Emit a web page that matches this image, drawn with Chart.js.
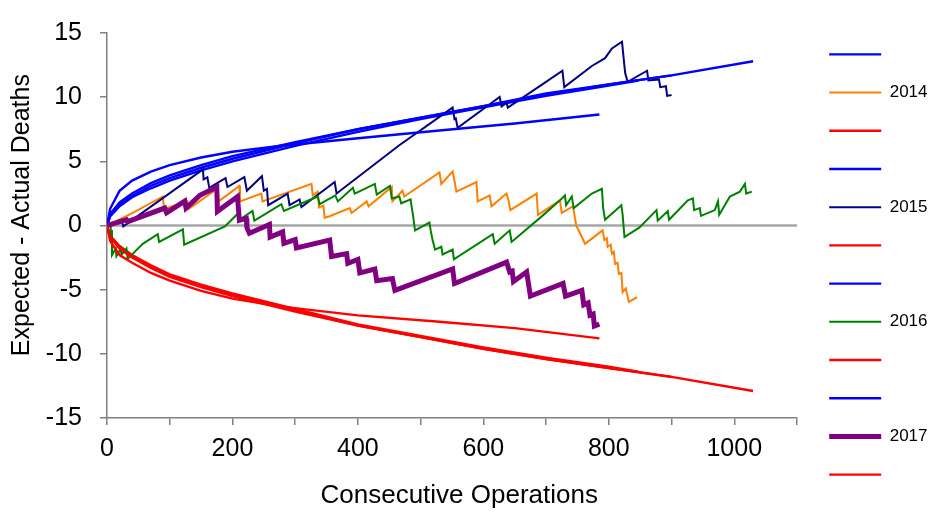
<!DOCTYPE html>
<html>
<head>
<meta charset="utf-8">
<script src="https://cdn.jsdelivr.net/npm/chart.js@4.4.1/dist/chart.umd.min.js"></script>
<style>
  html, body { margin: 0; padding: 0; background: #fff; }
  #wrap { width: 932px; height: 519px; }
</style>
</head>
<body>
<div id="wrap"><canvas id="chart" width="932" height="519"></canvas></div>
<script>

// control limits (expected - actual deaths), by year
const limOps2014 = [0, 5, 20, 40, 70, 100, 150, 200, 300, 400, 500, 600, 700, 800, 847];
const upper2014 = [0, 0.7, 1.5, 2.2, 2.9, 3.5, 4.3, 5.0, 6.2, 7.3, 8.3, 9.2, 10.1, 10.9, 11.3];
const lower2014 = [0, -0.8, -1.6, -2.3, -3.1, -3.8, -4.6, -5.3, -6.5, -7.7, -8.6, -9.5, -10.3, -11.0, -11.4];

const limOps2015 = [0, 5, 20, 40, 70, 100, 150, 200, 300, 400, 500, 600, 700, 800, 900];
const upper2015 = [0, 0.8, 1.6, 2.3, 3.1, 3.7, 4.5, 5.2, 6.4, 7.5, 8.4, 9.3, 10.2, 11.0, 11.7];
const lower2015 = [0, -0.8, -1.7, -2.4, -3.2, -3.9, -4.7, -5.4, -6.6, -7.8, -8.7, -9.6, -10.4, -11.1, -11.8];

const limOps2016 = [0, 5, 20, 40, 70, 100, 150, 200, 300, 400, 500, 600, 700, 800, 900, 1030];
const upper2016 = [0, 0.9, 1.8, 2.5, 3.3, 3.9, 4.7, 5.4, 6.5, 7.5, 8.4, 9.3, 10.3, 11.0, 11.7, 12.8];
const lower2016 = [0, -0.9, -1.8, -2.5, -3.3, -4.0, -4.8, -5.5, -6.7, -7.8, -8.7, -9.6, -10.4, -11.1, -11.8, -12.9];

const limOps2017 = [0, 5, 20, 40, 70, 100, 150, 200, 275, 400, 530, 650, 785];
const upper2017 = [0, 1.3, 2.7, 3.5, 4.2, 4.7, 5.3, 5.75, 6.2, 6.8, 7.4, 7.95, 8.65];
const lower2017 = [0, -1.2, -2.3, -2.9, -3.7, -4.3, -5.1, -5.7, -6.3, -7.0, -7.5, -8.0, -8.8];

// observed VLAD curves
const ops2014 = [0, 41, 89, 91, 128, 130, 176, 178, 211, 212, 246, 248, 326, 328, 336, 338, 345, 347, 355,
  387, 390, 414, 417, 454, 455, 471, 474, 530, 533, 551, 554, 557, 589, 591, 610, 613, 637, 640, 643,
  685, 687, 722, 725, 743, 746, 748, 757, 762, 790, 793, 797, 798, 803, 805, 808, 810, 814, 816, 820, 822, 827, 832, 845];
const vlad2014 = [0, 0.98, 2.26, 1.28, 1.88, 1.28, 2.86, 1.88, 3.09, 1.88, 2.49, 1.88, 3.24, 2.34, 2.64, 1.4, 1.55, 0.6, 0.72,
  1.36, 0.98, 1.88, 1.5, 3.01, 1.88, 2.71, 2.26, 4.14, 3.24, 4.22, 3.47, 2.64, 3.39, 1.88, 2.34, 1.5, 2.49, 1.96, 1.2,
  2.49, 0.83, 1.96, 0.98, 1.5, 0.6, 0.0, -0.9, -1.43, -0.38, -1.13, -1.0, -1.66, -1.5, -2.19, -2.05, -3.0, -2.9, -3.77, -3.7, -5.2, -4.9, -5.95, -5.58];

const ops2015 = [0, 23, 26, 153, 154, 160, 163, 189, 192, 219, 223, 247, 250, 255, 257, 288, 291, 307, 310, 363, 366,
  466, 551, 554, 556, 559, 626, 629, 637, 639, 694, 726, 729, 773, 794, 805, 821, 826, 830, 861, 863, 880, 882, 891, 893, 900];
const vlad2015 = [0, 0.45, -0.07, 4.37, 3.6, 3.75, 2.94, 3.69, 3.0, 3.77, 2.71, 3.84, 2.71, 2.85, 1.58, 2.49, 1.58, 2.03, 1.43, 3.39, 2.49,
  6.25, 9.19, 8.29, 8.35, 7.61, 10.02, 9.27, 9.57, 9.19, 11.0, 12.06, 10.78, 12.43, 13.04, 13.79, 14.32, 11.9, 11.2, 12.06, 11.3, 11.38, 10.78, 10.85, 10.1, 10.17];

const ops2016 = [0, 6, 6, 8, 8, 14, 15, 22, 23, 31, 33, 57, 81, 83, 121, 123, 188, 208, 211, 232, 235, 278, 282,
  336, 339, 364, 368, 392, 395, 427, 430, 451, 454, 466, 469, 484, 486, 488, 491, 514, 516, 519, 523, 533, 535, 551, 553,
  615, 618, 642, 645, 694, 722, 730, 732, 741, 744, 773, 789, 791, 794, 820, 822, 825, 849, 876, 878, 894, 896,
  926, 934, 936, 945, 947, 969, 974, 976, 993, 1009, 1017, 1019, 1028];
const vlad2016 = [0, 0.1, -0.6, -0.5, -2.3, -1.8, -2.4, -1.8, -2.3, -1.8, -2.6, -1.43, -0.68, -1.28, -0.3, -1.5, -0.08, 0.9, 0.45, 1.13, 0.38, 1.66, 1.13,
  2.26, 1.66, 2.34, 1.88, 2.94, 2.49, 3.24, 2.41, 3.09, 2.11, 2.26, 1.73, 2.03, 1.36, 0.75, -0.38, 0.23, -0.38, -1.13, -1.88, -1.66, -2.26, -1.88, -2.64,
  -0.68, -1.43, -0.38, -1.28, 0.75, 1.96, 2.34, 1.58, 2.26, 1.36, 2.49, 2.86, 1.36, 0.45, 1.58, 0.83, -0.9, -0.15, 1.2, 0.38, 1.13, 0.45,
  1.96, 2.11, 1.2, 1.36, 0.75, 1.2, 1.88, 0.83, 2.26, 2.64, 3.24, 2.49, 2.64];

const ops2017 = [0, 31, 33, 92, 95, 124, 126, 148, 175, 176, 208, 211, 222, 223, 227, 259, 260, 280, 282, 300, 302,
  355, 358, 382, 384, 400, 403, 427, 430, 455, 459, 551, 554, 637, 642, 646, 648, 669, 675, 727, 731, 757, 760, 767, 770, 775, 777, 785];
const vlad2017 = [0, 0.45, 0.3, 1.36, 1.0, 1.9, 1.36, 2.35, 3.0, 1.1, 2.25, 0.4, 0.55, -0.15, -0.6, 0.08, -0.9, -0.5, -1.4, -1.1, -1.75,
  -1.13, -2.41, -2.19, -2.94, -2.64, -3.69, -3.39, -4.3, -4.14, -5.05, -3.39, -4.52, -2.86, -3.62, -3.55, -4.37, -3.62, -5.5, -4.52, -5.5, -5.05, -6.18, -6.03, -7.0, -6.9, -7.84, -7.69];

const years = ['2014', '2015', '2016', '2017'];
const xMax = 1100;

const pts = (xs, ys) => xs.map((x, i) => ({x: x, y: ys[i]}));

function line(label, xs, ys, color, width) {
    return {
        label: label,
        data: pts(xs, ys),
        borderColor: color,
        backgroundColor: color,
        borderWidth: width,
        pointRadius: 0,
        fill: false,
        tension: 0
    };
}

const datasets = [
    line('', limOps2014, upper2014, '#0000ff', 2.4),
    line(years[0], ops2014, vlad2014, '#ff7f00', 2),
    line('', limOps2014, lower2014, '#ff0000', 2.4),
    line('', limOps2015, upper2015, '#0000ff', 2.4),
    line(years[1], ops2015, vlad2015, '#000080', 2),
    line('', limOps2015, lower2015, '#ff0000', 2.4),
    line('', limOps2016, upper2016, '#0000ff', 2.4),
    line(years[2], ops2016, vlad2016, '#008000', 2),
    line('', limOps2016, lower2016, '#ff0000', 2.4),
    line('', limOps2017, upper2017, '#0000ff', 2.4),
    line(years[3], ops2017, vlad2017, '#800080', 5),
    line('', limOps2017, lower2017, '#ff0000', 2.4)
];
// later series on top, like the original
datasets.forEach((d, i) => { d.order = datasets.length - i; });

// zero reference line, not in legend
const zero = line('zero', [0, xMax], [0, 0], '#a6a6a6', 2.5);
zero.order = 100;
zero.isZero = true;
datasets.push(zero);

const font = "'Liberation Sans', Arial, sans-serif";
const axisGrey = '#808080';

const ctx = document.getElementById("chart").getContext("2d");

const chart = new Chart(ctx, {
    type: "line",
    data: { datasets: datasets },
    options: {
        responsive: false,
        animation: false,
        layout: { padding: { top: 20, bottom: 10, left: 0, right: 0 } },
        plugins: {
            tooltip: { enabled: false },
            legend: {
                position: 'right',
                maxWidth: 124,
                labels: {
                    usePointStyle: true,
                    pointStyle: 'line',
                    boxWidth: 52,
                    pointStyleWidth: 52,
                    padding: 21.2,
                    color: '#000',
                    font: { family: font, size: 17 },
                    filter: item => datasets[item.datasetIndex] && !datasets[item.datasetIndex].isZero,
                    sort: (a, b) => a.datasetIndex - b.datasetIndex
                }
            }
        },
        scales: {
            x: {
                type: 'linear',
                min: 0,
                max: xMax,
                afterFit: s => { s.height = 91; },
                border: { display: true, color: axisGrey, width: 1.5 },
                grid: { drawOnChartArea: false, drawTicks: true, tickLength: 7, color: axisGrey, lineWidth: 1.5 },
                ticks: {
                    stepSize: 100,
                    autoSkip: false,
                    maxRotation: 0,
                    padding: 9,
                    color: '#000',
                    font: { family: font, size: 25 },
                    callback: v => (v % 200 === 0 && v <= 1000) ? String(v) : ''
                },
                title: {
                    display: true,
                    text: '\u00a0\u00a0Consecutive Operations',
                    color: '#000',
                    font: { family: font, size: 26, lineHeight: 1 },
                    padding: { top: 0, bottom: 0 }
                }
            },
            y: {
                min: -15,
                max: 15,
                afterFit: s => { s.width = 107; },
                border: { display: true, color: axisGrey, width: 1.5 },
                grid: { drawOnChartArea: false, drawTicks: true, tickLength: 7, color: axisGrey, lineWidth: 1.5 },
                ticks: {
                    stepSize: 5,
                    padding: 18,
                    color: '#000',
                    font: { family: font, size: 25 }
                },
                title: {
                    display: true,
                    text: '\u00a0\u00a0\u00a0Expected - Actual Deaths',
                    color: '#000',
                    font: { family: font, size: 25, lineHeight: 1 },
                    padding: { top: 10, bottom: 0 }
                }
            },
            // empty axis: keeps a small gap between plot and legend
            gap: {
                type: 'linear',
                position: 'right',
                display: true,
                afterFit: s => { s.width = 11; },
                grid: { display: false },
                border: { display: false },
                ticks: { display: false }
            }
        }
    }
});

</script>
</body>
</html>
